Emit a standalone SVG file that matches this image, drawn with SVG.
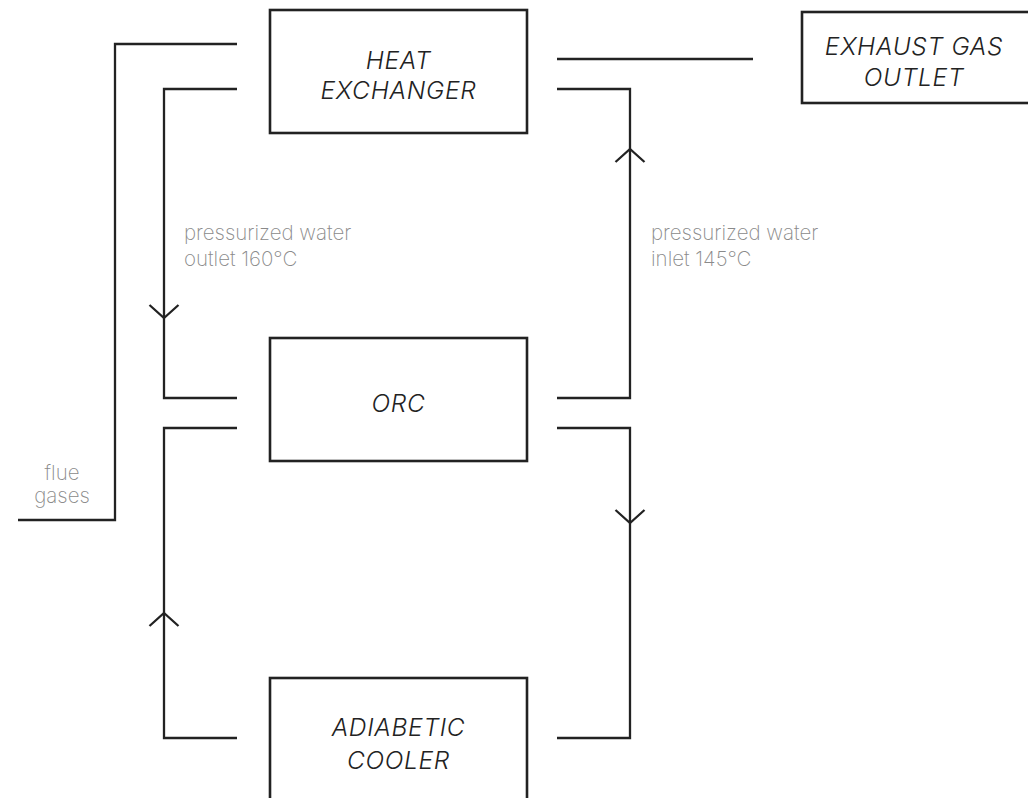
<svg xmlns="http://www.w3.org/2000/svg" width="1028" height="798" viewBox="0 0 1028 798">
<style>
.box{fill:#fff;stroke:#222;stroke-width:2.6}
.ln{fill:none;stroke:#222;stroke-width:2.3}
.ttl{font-family:Inter,"Liberation Sans",sans-serif;font-style:italic;font-weight:300;font-size:24.5px;letter-spacing:0.7px;fill:#222;text-anchor:middle}
.lbl{font-family:Inter,"Liberation Sans",sans-serif;font-weight:200;font-size:20.5px;fill:#8a8a8a}
</style>
<rect width="1028" height="798" fill="#fff"/>
<g id="connectors">
<path class="ln" d="M18 520 H115 V44 H237"/>
<path class="ln" d="M557 59 H753"/>
<path class="ln" d="M237 89 H164 V398 H237"/>
<polyline class="ln" points="149.5,305 164,318 178.5,305"/>
<path class="ln" d="M557 398 H630 V89 H557"/>
<polyline class="ln" points="615.5,162 630,149 644.5,162"/>
<path class="ln" d="M557 428 H630 V738 H557"/>
<polyline class="ln" points="615.5,510 630,523 644.5,510"/>
<path class="ln" d="M237 738 H164 V428 H237"/>
<polyline class="ln" points="149.5,626 164,613 178.5,626"/>
</g>
<g id="heat-exchanger">
<rect class="box" x="270" y="10" width="257" height="123"/>
<text class="ttl" x="398.5" y="69">HEAT</text>
<text class="ttl" x="398.5" y="99">EXCHANGER</text>
</g>
<g id="exhaust-gas-outlet">
<rect class="box" x="802" y="12" width="240" height="91"/>
<text class="ttl" x="914" y="55">EXHAUST GAS</text>
<text class="ttl" x="914" y="86">OUTLET</text>
</g>
<g id="orc">
<rect class="box" x="270" y="338" width="257" height="123"/>
<text class="ttl" x="398.5" y="412">ORC</text>
</g>
<g id="adiabatic-cooler">
<rect class="box" x="270" y="678" width="257" height="140"/>
<text class="ttl" x="398.5" y="736">ADIABETIC</text>
<text class="ttl" x="398.5" y="769">COOLER</text>
</g>
<g id="labels">
<text class="lbl" x="184" y="240">pressurized water</text>
<text class="lbl" x="184" y="266">outlet 160°C</text>
<text class="lbl" x="651" y="240">pressurized water</text>
<text class="lbl" x="651" y="266">inlet 145°C</text>
<text class="lbl" x="62" y="480" text-anchor="middle">flue</text>
<text class="lbl" x="62" y="503" text-anchor="middle">gases</text>
</g>
</svg>
